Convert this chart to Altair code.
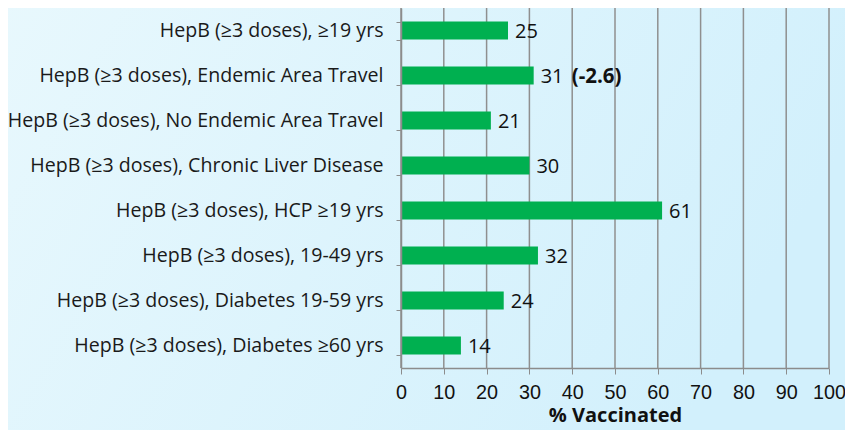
import altair as alt
import pandas as pd

categories = [
    "HepB (≥3 doses), ≥19 yrs",
    "HepB (≥3 doses), Endemic Area Travel",
    "HepB (≥3 doses), No Endemic Area Travel",
    "HepB (≥3 doses), Chronic Liver Disease",
    "HepB (≥3 doses), HCP ≥19 yrs",
    "HepB (≥3 doses), 19-49 yrs",
    "HepB (≥3 doses), Diabetes 19-59 yrs",
    "HepB (≥3 doses), Diabetes ≥60 yrs",
]
values = [25, 31, 21, 30, 61, 32, 24, 14]
changes = ["", "(-2.6)", "", "", "", "", "", ""]
x_ticks = [0, 10, 20, 30, 40, 50, 60, 70, 80, 90, 100]

df = pd.DataFrame({"cat": categories, "val": values, "chg": changes})
ticks_df = pd.DataFrame({"val": x_ticks})

W, H = 428, 360
PL, PT, PR, PB = 393, 0, 16, 62

y_enc = alt.Y(
    "cat:N",
    sort=categories,
    title=None,
    scale=alt.Scale(paddingInner=0.6, paddingOuter=0.3),
    axis=alt.Axis(
        labelFont="Open Sans",
        labelFontSize=19.6,
        labelColor="#1a1a1a",
        labelPadding=13,
        labelLimit=400,
        tickBand="extent",
        tickSize=5,
        tickColor="#8c8c8c",
        domainColor="#8c8c8c",
        domainWidth=1.5,
        grid=False,
        zindex=1,
    ),
)

x_scale = alt.Scale(domain=[0, 100], nice=False)

x_enc = alt.X(
    "val:Q",
    title="% Vaccinated",
    scale=x_scale,
    axis=alt.Axis(
        values=x_ticks,
        labelFont="Liberation Sans",
        labelFontSize=19.8,
        labelColor="#111111",
        labelPadding=8,
        labelOverlap=False,
        labelFlush=False,
        tickSize=6,
        tickColor="#8c8c8c",
        domainColor="#8c8c8c",
        domainWidth=1.5,
        grid=False,
        zindex=1,
        titleFont="Open Sans",
        titleFontSize=20,
        titleFontWeight="bold",
        titleColor="#111111",
        titlePadding=4,
    ),
)

bg = alt.Chart(pd.DataFrame({"k": [0]})).mark_rect(
    clip=False,
    color=alt.Gradient(
        gradient="linear",
        x1=0, y1=0, x2=1, y2=0.3,
        stops=[
            alt.GradientStop(offset=0, color="#e8f8fd"),
            alt.GradientStop(offset=1, color="#d2f0fc"),
        ],
    ),
).encode(
    x=alt.value(-PL - 10), x2=alt.value(W + PR + 10),
    y=alt.value(-PT - 10), y2=alt.value(H + PB + 10),
)

grid = alt.Chart(ticks_df).mark_rule(color="#8f8f8f", strokeWidth=1.5).encode(
    x=alt.X("val:Q", scale=x_scale)
)

bars = alt.Chart(df).mark_bar(color="#00b050").encode(x=x_enc, y=y_enc)

labels = alt.Chart(df).mark_text(
    align="left", baseline="middle", dx=7, dy=1,
    font="Open Sans", fontSize=20, color="#111111",
).encode(x="val:Q", y=alt.Y("cat:N", sort=categories), text="val:Q")

chg = alt.Chart(df).transform_filter("datum.chg != ''").mark_text(
    align="left", baseline="middle", dx=38, dy=1,
    font="Open Sans", fontSize=20.5, fontWeight="bold", color="#111111",
).encode(x="val:Q", y=alt.Y("cat:N", sort=categories), text="chg:N")

chart = (
    alt.layer(bg, grid, bars, labels, chg)
    .properties(
        width=W,
        height=H,
        autosize=alt.AutoSizeParams(type="none"),
        padding={"left": PL, "top": PT, "right": PR, "bottom": PB},
        background="#dcf3fc",
    )
    .configure_view(stroke=None)
)

chart.save("out.html", embed_options={"renderer": "svg", "actions": False})
